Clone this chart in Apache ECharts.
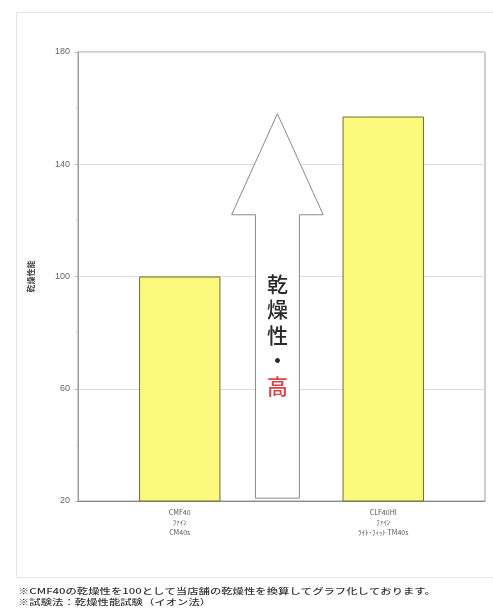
<!DOCTYPE html>
<html>
<head>
<meta charset="utf-8">
<script src="https://cdn.jsdelivr.net/npm/echarts@6/dist/echarts.min.js"></script>
<style>
html,body{margin:0;padding:0;background:#fff;}
#c{width:493px;height:608px;}
</style>
</head>
<body>
<div id="c"></div>
<script>
// Data
var categories = ['CMF40\nﾌｧｲﾝ\nCM40s', 'CLF40HI\nﾌｧｲﾝ\nﾗｲﾄ･ﾌｨｯﾄ TM40s'];
var values = [100, 157];
var yTicks = [20, 60, 100, 140, 180];
var yAxisName = '乾燥性能';
// arrow: [bottom value, head base value, tip value, text centre value]
var arrowValues = [21, 122, 158, 80];
var arrowChars = ['乾', '燥', '性', '・', '高'];
var footnotes = [
  '※CMF40の乾燥性を100として当店舗の乾燥性を換算してグラフ化しております。',
  '※試験法：乾燥性能試験（イオン法）'
];

var chart = echarts.init(document.getElementById('c'));
var font = '"Noto Sans CJK JP", "Noto Sans", sans-serif';

chart.setOption({
  animation: false,
  backgroundColor: '#fff',
  grid: { left: 78, right: 8, top: 52, bottom: 107, show: true, borderColor: '#9a9a9a', borderWidth: 1 },
  xAxis: {
    type: 'category',
    data: categories,
    axisLine: { lineStyle: { color: '#8a8a8a' } },
    axisTick: { show: false },
    axisLabel: { color: '#555', fontSize: 7, lineHeight: 10, margin: 6, fontFamily: font }
  },
  yAxis: {
    type: 'value',
    min: yTicks[0],
    max: yTicks[yTicks.length - 1],
    interval: 40,
    name: yAxisName,
    nameLocation: 'middle',
    nameRotate: 90,
    nameGap: 43,
    nameTextStyle: { color: '#444', fontSize: 8, fontWeight: 'bold', fontFamily: font },
    axisLine: { show: true, lineStyle: { color: '#9a9a9a' } },
    axisTick: { show: true, length: 3, lineStyle: { color: '#bbb' } },
    minorTick: { show: true, splitNumber: 2, length: 2, lineStyle: { color: '#ccc' } },
    splitLine: { lineStyle: { color: '#dcdcdc' } },
    axisLabel: { color: '#666', fontSize: 9, margin: 8, fontFamily: 'Liberation Sans, sans-serif' }
  },
  series: [
    {
      type: 'bar',
      data: values,
      barWidth: '40%',
      itemStyle: { color: '#fbfa7c', borderColor: '#6e6e3a', borderWidth: 1 }
    },
    {
      type: 'custom',
      data: [arrowValues],
      z: 5,
      renderItem: function (params, api) {
        var x0 = api.coord([0, arrowValues[0]])[0];
        var x1 = api.coord([1, arrowValues[0]])[0];
        var band = x1 - x0;
        var cx = (x0 + x1) / 2 - band * 0.02;
        var yb = api.coord([0, api.value(0)])[1];
        var yh = api.coord([0, api.value(1)])[1];
        var yt = api.coord([0, api.value(2)])[1];
        var ytx = api.coord([0, api.value(3)])[1];
        var sw = band * 0.108;
        var hw = band * 0.225;
        var pts = [
          [cx - sw, yb], [cx - sw, yh], [cx - hw, yh], [cx, yt],
          [cx + hw, yh], [cx + sw, yh], [cx + sw, yb]
        ];
        var children = [{
          type: 'polygon',
          shape: { points: pts },
          style: { fill: '#fff', stroke: '#8a8a8a', lineWidth: 1 }
        }];
        var step = 25.5;
        var startY = ytx - step * (arrowChars.length - 1) / 2 + 2;
        for (var i = 0; i < arrowChars.length; i++) {
          children.push({
            type: 'text',
            style: {
              text: arrowChars[i],
              x: cx, y: startY + i * step,
              align: 'center', verticalAlign: 'middle',
              fill: arrowChars[i] === '高' ? '#d9454a' : '#2a2a2a',
              font: '500 21px ' + font
            }
          });
        }
        return { type: 'group', children: children };
      }
    }
  ],
  graphic: [
    { type: 'rect', left: 14, top: 10, shape: { width: 490, height: 565 }, style: { fill: 'none', stroke: '#e6e6e6', lineWidth: 1 } },
    { type: 'text', x: 18, y: 587, scaleX: 1.42, style: { text: footnotes[0], fill: '#333', font: '500 8px ' + font } },
    { type: 'text', x: 18, y: 598, scaleX: 1.42, style: { text: footnotes[1], fill: '#333', font: '500 8px ' + font } }
  ]
});
</script>
</body>
</html>
